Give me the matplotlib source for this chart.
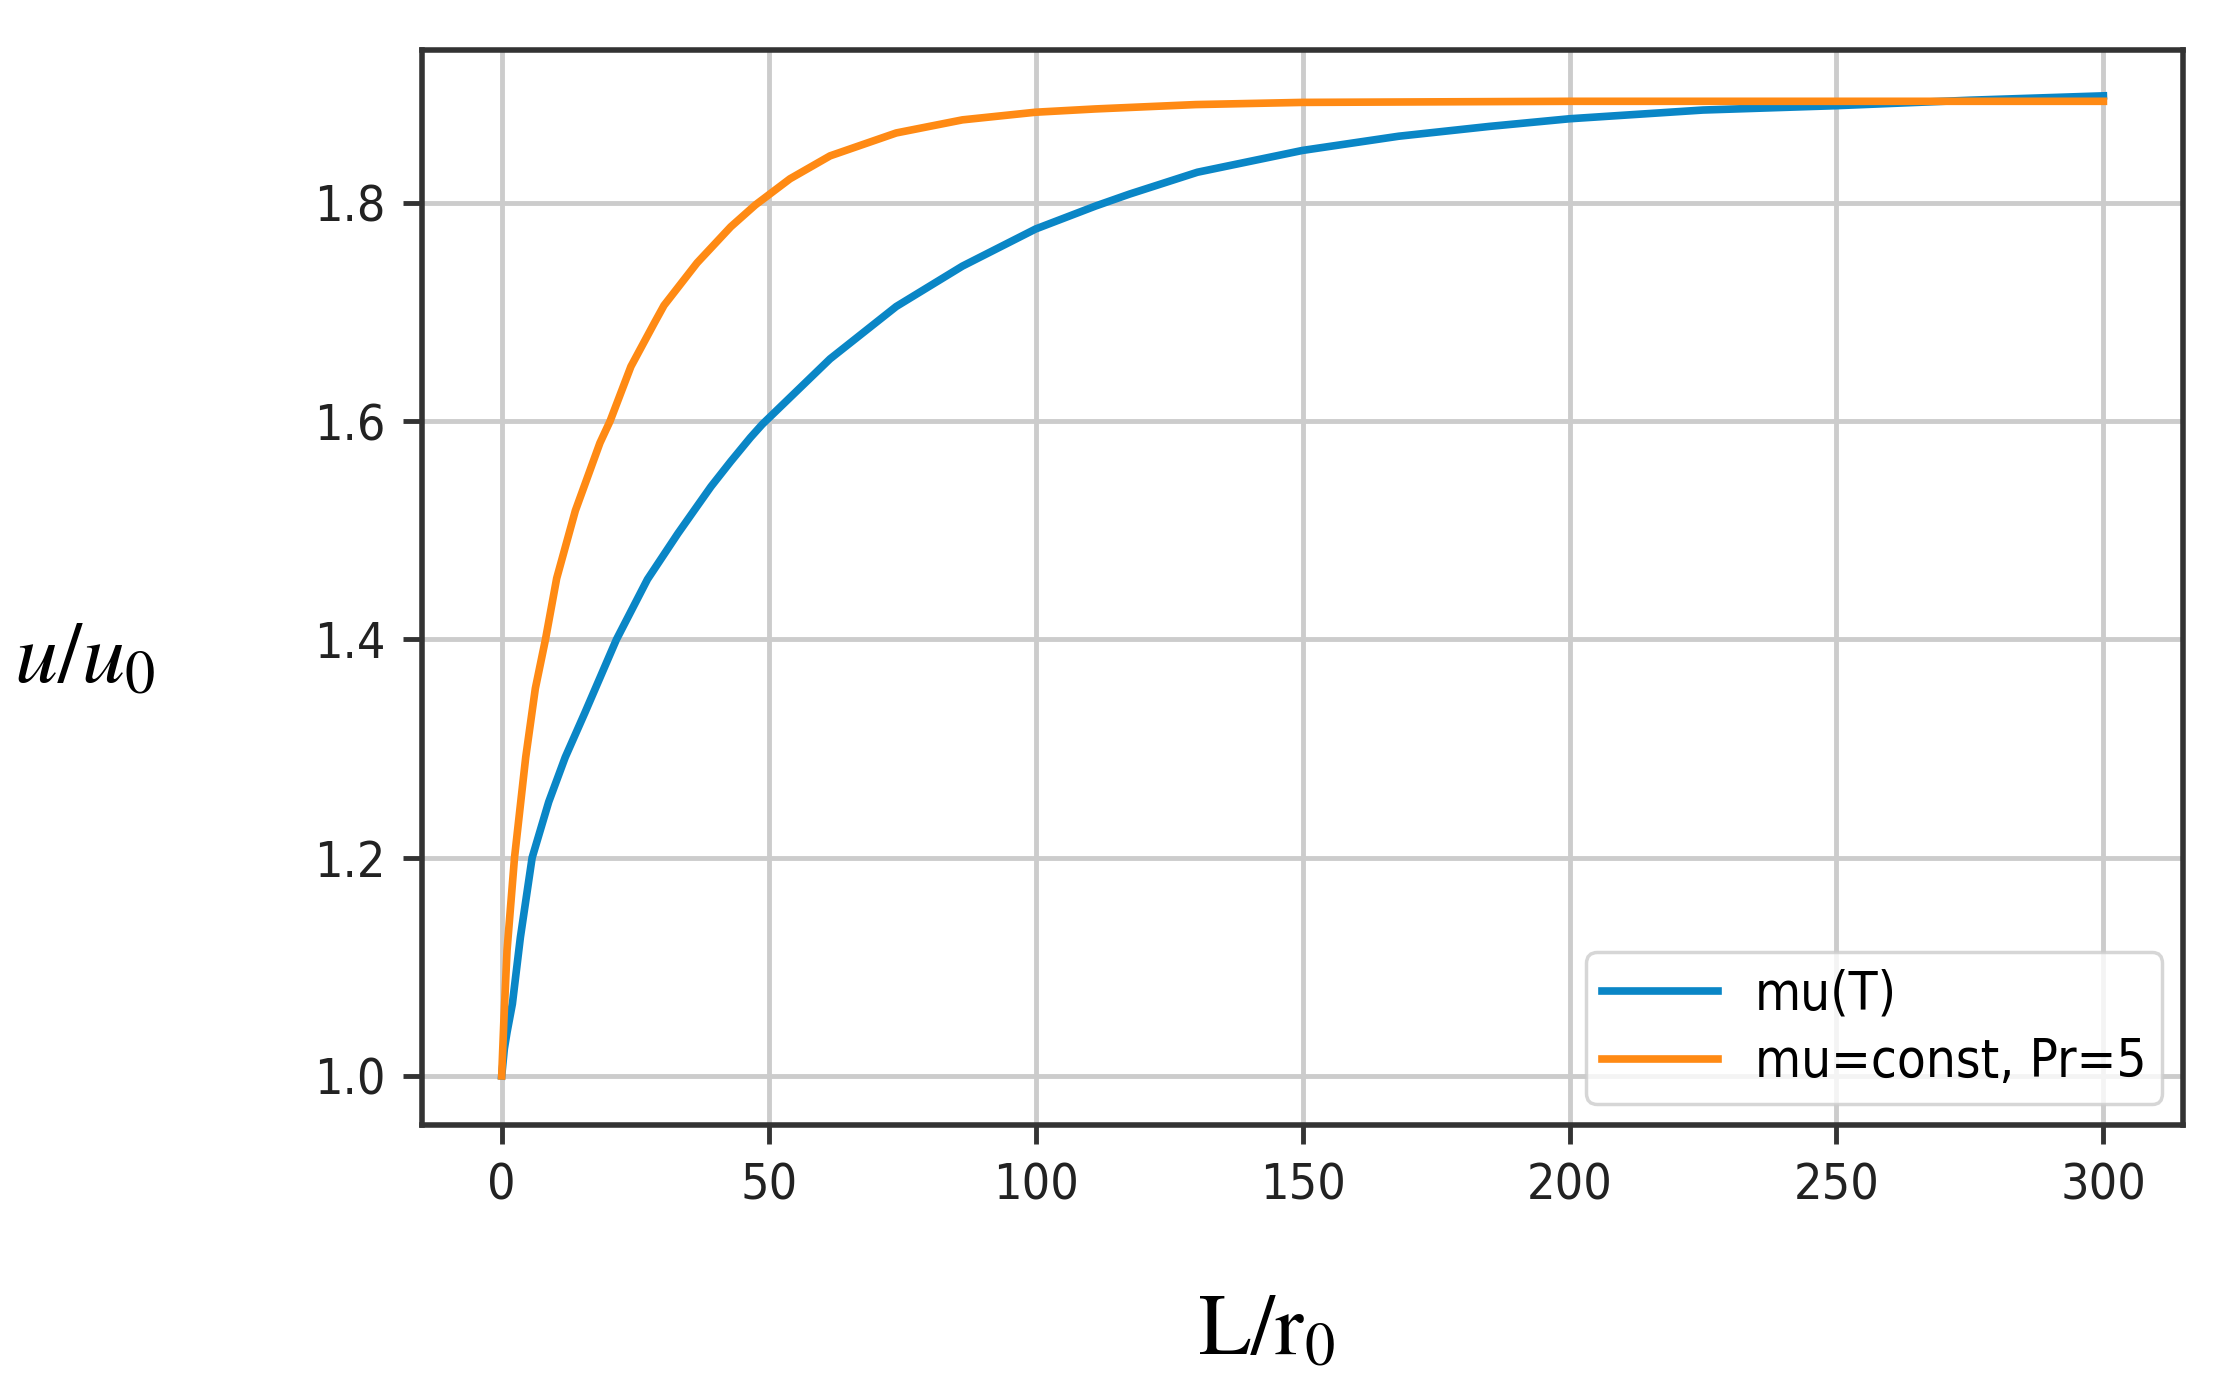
import matplotlib.pyplot as plt

plt.rcParams['mathtext.fontset'] = 'stix'
plt.rcParams['font.stretch'] = 'condensed'

# mu(T)
blue_x = [0, 0.5, 1, 2.0, 3.5, 5.7, 8.8, 11.9, 15.6, 21.5, 27.3, 33.0, 36.6, 39.2,
          42.9, 46.6, 48.8, 61.5, 73.9, 86.3, 100, 111.2, 117.6, 130.3, 150, 168,
          185, 200, 225, 250, 275, 300]
blue_y = [1.0, 1.025, 1.04, 1.066, 1.127, 1.2, 1.251, 1.292, 1.333, 1.4, 1.455, 1.497,
          1.522, 1.54, 1.563, 1.585, 1.597, 1.657, 1.705, 1.742, 1.776, 1.797, 1.808,
          1.828, 1.848, 1.861, 1.870, 1.877, 1.885, 1.889, 1.894, 1.898]

# mu=const, Pr=5
orange_x = [0, 0.4, 1.0, 2.4, 4.5, 6.3, 8.2, 10.3, 13.8, 18.4, 20.3, 24.2, 28.6,
            30.4, 36.6, 42.9, 47.5, 54, 61.5, 73.9, 86.3, 100, 111.2, 130, 150, 200,
            250, 300]
orange_y = [1.0, 1.05, 1.115, 1.2, 1.292, 1.355, 1.4, 1.456, 1.518, 1.58, 1.6, 1.65,
            1.69, 1.706, 1.745, 1.778, 1.798, 1.822, 1.843, 1.864, 1.876, 1.883, 1.886,
            1.89, 1.892, 1.893, 1.893, 1.893]

xticks = [0, 50, 100, 150, 200, 250, 300]
yticks = [1.0, 1.2, 1.4, 1.6, 1.8]

fig = plt.figure(figsize=(22.19, 13.89), dpi=100)
ax = fig.add_axes([0.190, 0.190, 0.794, 0.774])

ax.plot(blue_x, blue_y, color='#0a86c6', lw=5.5, label='mu(T)')
ax.plot(orange_x, orange_y, color='#ff8a14', lw=5.5, label='mu=const, Pr=5')

ax.set_xticks(xticks)
ax.set_yticks(yticks)
ax.set_xlim(-15, 315)
ax.set_ylim(0.955, 1.94)
ax.grid(True, color='#cccccc', lw=3.5)
ax.tick_params(labelsize=36, labelcolor='#222222', length=14, width=3.5, pad=12,
               color='#333333')
for s in ax.spines.values():
    s.set_linewidth(4)
    s.set_color('#333333')

leg = ax.legend(loc='lower right', fontsize=38, handlelength=2.2, borderpad=0.3,
                labelspacing=0.3, handletextpad=0.7, borderaxespad=0.4)
leg.get_frame().set_linewidth(2.5)

fig.text(0.038, 0.526, r'$u/u_{\mathrm{0}}$', fontsize=62, ha='center', va='center')
fig.text(0.571, 0.042, r'$\mathrm{L/r_0}$', fontsize=62, ha='center', va='center')

fig.savefig('out.png', dpi=100)
